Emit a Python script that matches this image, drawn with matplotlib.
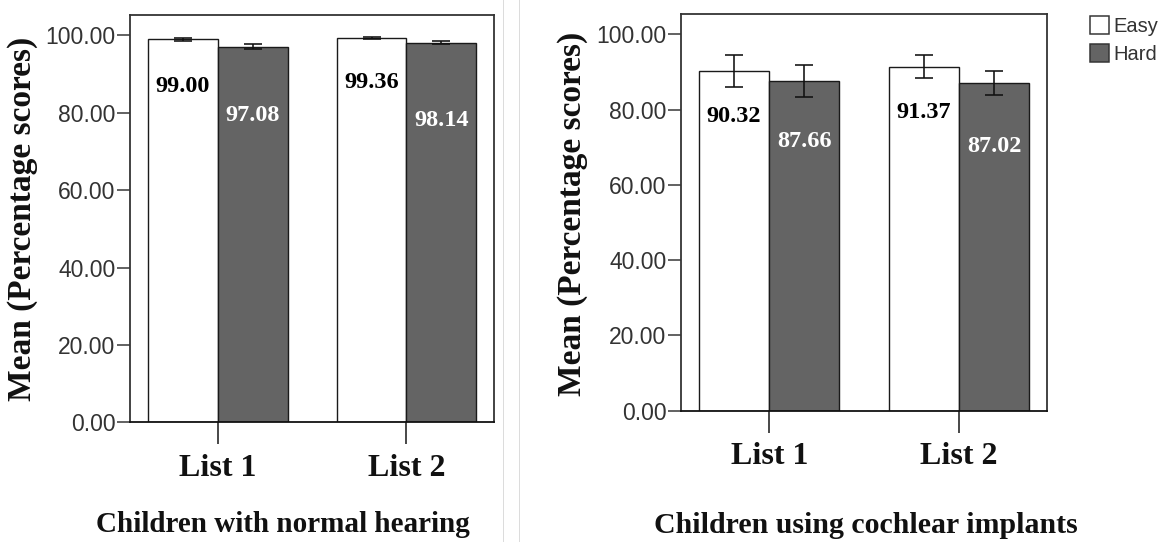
import matplotlib
matplotlib.use("Agg")
import matplotlib.pyplot as plt
from matplotlib.patches import Patch
from matplotlib.lines import Line2D
import numpy as np

# ---- data ----
categories = ["List 1", "List 2"]
series_names = ["Easy", "Hard"]
nh_easy = [99.00, 99.36]
nh_hard = [97.08, 98.14]
nh_easy_err = [0.4, 0.2]
nh_hard_err = [0.7, 0.4]
ci_easy = [90.32, 91.37]
ci_hard = [87.66, 87.02]
ci_easy_err = [4.3, 3.1]
ci_hard_err = [4.2, 3.2]
yticks = [0, 20, 40, 60, 80, 100]
panel_titles = ["Children with normal hearing", "Children using cochlear implants"]
ylabel = "Mean (Percentage scores)"

# ---- style ----
W, H = 1164, 542
DPI = 100
px = 72.0 / DPI  # points per pixel
easy_color = "white"
hard_color = "#646464"
edge_color = "#1a1a1a"
spine_color = "#333333"
tick_color = "#333333"
serif = ["Liberation Serif", "DejaVu Serif"]
sans = ["Liberation Sans", "DejaVu Sans"]

# label offsets below bar tops (pixels)
nh_easy_off = [47, 45]
nh_hard_off = [69, 78]
ci_easy_off = [46, 46]
ci_hard_off = [61, 63]

fig = plt.figure(figsize=(W / DPI, H / DPI), dpi=DPI)

def axes_px(l, r, t, b):
    return fig.add_axes([l / W, 1 - b / H, (r - l) / W, (b - t) / H])

ax1 = axes_px(130, 494, 14.5, 422.4)
ax2 = axes_px(680.7, 1047.3, 14, 410.7)

bw = 0.37
x = np.arange(len(categories))

def draw(ax, easy, hard, e_err, h_err, e_off, h_off):
    ekw = dict(ecolor="#111111", elinewidth=1.6 * px, capthick=1.6 * px)
    ax.bar(x - bw / 2, easy, bw, color=easy_color, edgecolor=edge_color,
           linewidth=1.4 * px, yerr=e_err, capsize=9 * px, error_kw=ekw, zorder=2)
    ax.bar(x + bw / 2, hard, bw, color=hard_color, edgecolor=edge_color,
           linewidth=1.4 * px, yerr=h_err, capsize=9 * px, error_kw=ekw, zorder=2)
    for i in range(len(categories)):
        ax.annotate(f"{easy[i]:.2f}", (x[i] - bw / 2, easy[i]),
                    xytext=(0, -e_off[i] * px), textcoords="offset points",
                    ha="center", va="center", fontsize=17.5, fontweight="bold",
                    family=serif, color="black", zorder=3)
        ax.annotate(f"{hard[i]:.2f}", (x[i] + bw / 2, hard[i]),
                    xytext=(0, -h_off[i] * px), textcoords="offset points",
                    ha="center", va="center", fontsize=17.5, fontweight="bold",
                    family=serif, color="white", zorder=3)
    ax.set_xlim(-0.466, 1.464)
    ax.set_ylim(0, 105.4)
    ax.set_yticks(yticks)
    ax.set_yticklabels([f"{v:.2f}" for v in yticks], family=sans, fontsize=16.5,
                       color=tick_color)
    ax.set_xticks(x)
    ax.set_xticklabels(categories, family=serif, fontsize=23, fontweight="bold",
                       color="#111111")
    ax.tick_params(axis="y", direction="out", length=13 * px, width=1.5 * px,
                   color=spine_color, pad=1)
    ax.tick_params(axis="x", direction="out", length=21.7 * px, width=1.5 * px,
                   color="#111111", pad=7)
    for s in ax.spines.values():
        s.set_color(spine_color)
        s.set_linewidth(1.8 * px)
    ax.spines["bottom"].set_color("#111111")

draw(ax1, nh_easy, nh_hard, nh_easy_err, nh_hard_err, nh_easy_off, nh_hard_off)
draw(ax2, ci_easy, ci_hard, ci_easy_err, ci_hard_err, ci_easy_off, ci_hard_off)

# y labels
fig.text(23 / W, 1 - 218.7 / H, ylabel, rotation=90, ha="center", va="center",
         family=serif, fontweight="bold", fontsize=24, color="#111111")
fig.text(573 / W, 1 - 213.5 / H, ylabel, rotation=90, ha="center", va="center",
         family=serif, fontweight="bold", fontsize=24, color="#111111")

# panel subtitles
fig.text(283.3 / W, 1 - 524 / H, panel_titles[0], ha="center", va="center",
         family=serif, fontweight="bold", fontsize=21, color="#111111")
fig.text(866 / W, 1 - 525.5 / H, panel_titles[1], ha="center", va="center",
         family=serif, fontweight="bold", fontsize=21.5, color="#111111")

# separators
for sx in (503, 519):
    fig.add_artist(Line2D([sx / W, sx / W], [0, 1], color="#dcdcdc", lw=1.0 * px))

# legend
handles = [Patch(facecolor=easy_color, edgecolor="#333333", linewidth=1.5 * px),
           Patch(facecolor=hard_color, edgecolor="#333333", linewidth=1.5 * px)]
fig.legend(handles, series_names, loc="upper left",
           bbox_to_anchor=(1090 / W, 1 - 16 / H), frameon=False,
           prop={"family": sans, "size": 14.5}, handlelength=0.95, handleheight=1.0,
           handletextpad=0.2, labelspacing=0.42, borderpad=0, borderaxespad=0,
           labelcolor="#333333")

fig.savefig("out.png", dpi=DPI)
